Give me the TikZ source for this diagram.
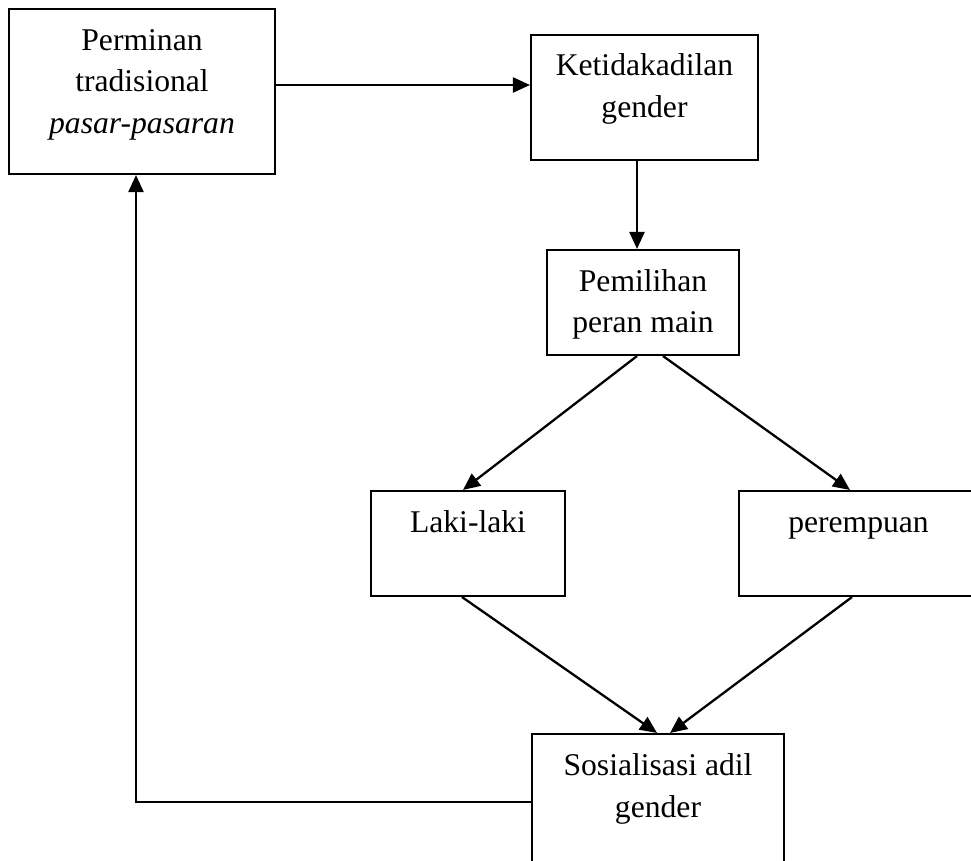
\documentclass[tikz,border=0pt]{standalone}
\usepackage{fontspec}
\setmainfont{Liberation Serif}
\usetikzlibrary{arrows.meta}

% text in a box, set from the top edge down
\newcommand{\boxtext}[3]{\parbox[c][#2][t]{#1}{\centering\rule{0pt}{0.82cm}#3}}

\begin{document}
\begin{tikzpicture}[x=0.02cm,y=-0.02cm,
		box/.style={draw,line width=1.2pt,inner sep=0pt,font=\fontsize{18}{23.9}\selectfont},
		arr/.style={line width=1.3pt,-{Triangle[length=0.34cm,width=0.3cm]}}
		]
		\clip (0,0) rectangle (971,861);
		
		\node[box] (main) at (142,91.5) {\boxtext{5.32cm}{3.3cm}{Perminan\\ tradisional\\ \textit{pasar-pasaran}}};
		\node[box] (tidak) at (644.5,97.5) {\boxtext{4.54cm}{2.5cm}{Ketidakadilan\\ gender}};
		\node[box] (peran) at (643,302.5) {\boxtext{3.84cm}{2.1cm}{Pemilihan\\ peran main}};
		\node[box] (laki) at (468,543.5) {\boxtext{3.88cm}{2.1cm}{Laki-laki}};
		\node[box] (puan) at (858.5,543.5) {\boxtext{4.78cm}{2.1cm}{perempuan}};
		\node[box] (sosial) at (658,817) {\boxtext{5.04cm}{3.32cm}{Sosialisasi adil\\ gender}};
		
		\coordinate (back) at (136,802);
		
		\draw[arr] (main.east |- 0,85) -- (tidak.west |- 0,85);
		\draw[arr] (tidak.south -| 637,0) -- (peran.north -| 637,0);
		\draw[arr] (peran.south -| 637,0) -- (laki.north -| 463,0);
		\draw[arr] (peran.south -| 663,0) -- (puan.north -| 850,0);
		\draw[arr] (laki.south -| 462,0) -- (sosial.north -| 657,0);
		\draw[arr] (puan.south -| 852,0) -- (sosial.north -| 670,0);
		\draw[arr] (sosial.west |- back) -- (back) -- (main.south -| back);
\end{tikzpicture}
\end{document}
